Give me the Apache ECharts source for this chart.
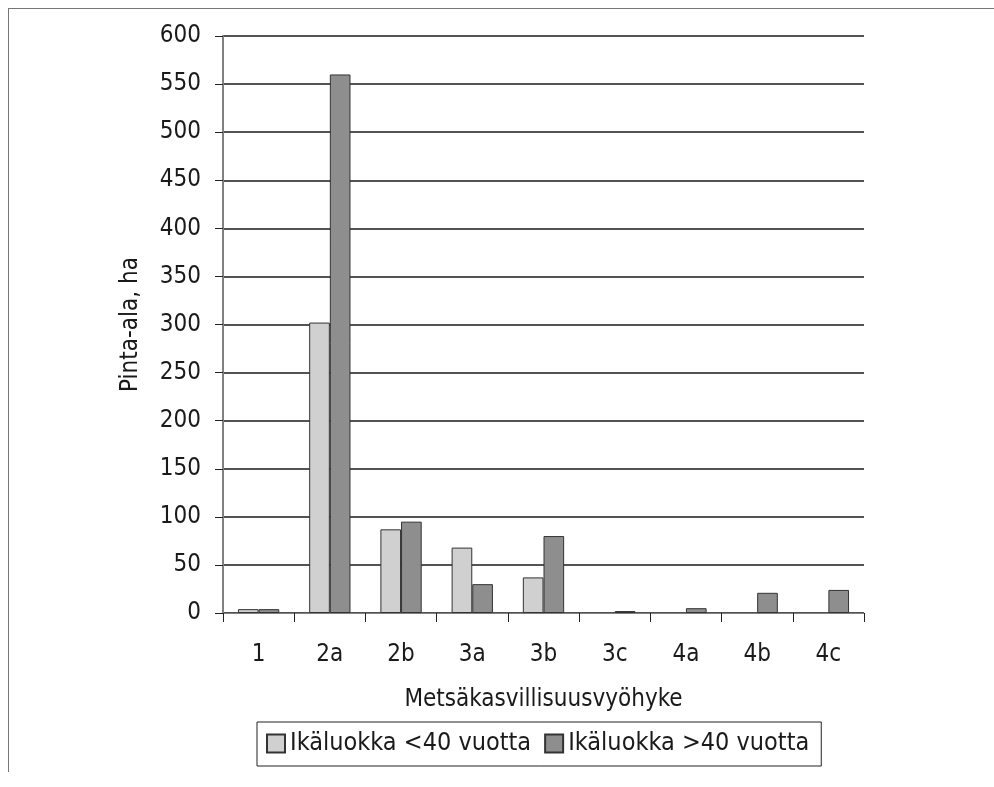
<!DOCTYPE html>
<html><head><meta charset="utf-8">
<script src="https://cdn.jsdelivr.net/npm/echarts@6/dist/echarts.min.js"></script>
<style>html,body{margin:0;padding:0;background:#fff}#c{width:994px;height:787px}</style>
</head><body><div id="c"></div>
<script>
const categories = ['1','2a','2b','3a','3b','3c','4a','4b','4c'];
const youngValues = [4, 302, 87, 68, 37, 0, 0, 0, 0];
const oldValues = [4, 560, 95, 30, 80, 2, 5, 21, 24];
const seriesNames = ['Ikäluokka <40 vuotta', 'Ikäluokka >40 vuotta'];
const yTicks = [0,50,100,150,200,250,300,350,400,450,500,550,600];
const yTitle = 'Pinta-ala, ha';
const xTitle = 'Metsäkasvillisuusvyöhyke';

const FONT = '"DejaVu Sans Condensed", "Liberation Sans Narrow", sans-serif';
const hideZero = arr => arr.map(v => v === 0 ? null : v);
const chart = echarts.init(document.getElementById('c'));
chart.setOption({
  animation: false,
  textStyle: {fontFamily: FONT},
  graphic: [
    {type: 'line', shape: {x1: 8, y1: 8.5, x2: 994, y2: 8.5}, style: {stroke: '#777', lineWidth: 1}},
    {type: 'line', shape: {x1: 8.5, y1: 8, x2: 8.5, y2: 772}, style: {stroke: '#777', lineWidth: 1}}
  ],
  grid: {left: 223, right: 130, top: 36, bottom: 174, containLabel: false},
  legend: {
    top: 722, left: 257,
    data: seriesNames,
    itemWidth: 18, itemHeight: 18, itemGap: 13,
    icon: 'rect',
    borderColor: '#222', borderWidth: 1,
    padding: [9, 12, 10, 9],
    textStyle: {fontSize: 25, color: '#1a1a1a', fontFamily: FONT}
  },
  xAxis: {
    type: 'category', data: categories,
    name: xTitle, nameLocation: 'middle', nameGap: 75,
    nameTextStyle: {fontSize: 24, color: '#1a1a1a', fontFamily: FONT},
    axisLine: {lineStyle: {color: '#808080', width: 1}},
    axisTick: {show: true, length: 9, lineStyle: {color: '#222'}},
    axisLabel: {fontSize: 24, color: '#1a1a1a', margin: 30, fontFamily: FONT}
  },
  yAxis: {
    type: 'value', min: 0, max: 600, interval: 50,
    name: yTitle, nameLocation: 'middle', nameGap: 80, nameRotate: 90,
    nameTextStyle: {fontSize: 24, color: '#1a1a1a', fontFamily: FONT},
    axisLine: {show: true, lineStyle: {color: '#808080', width: 2}},
    axisTick: {show: true, length: 8, lineStyle: {color: '#222'}},
    axisLabel: {fontSize: 24, color: '#1a1a1a', margin: 22, fontFamily: FONT,
      formatter: v => yTicks.includes(v) ? String(v) : ''},
    splitLine: {show: true, lineStyle: {color: '#1a1a1a', width: 1.5}}
  },
  series: [
    {name: seriesNames[0], type: 'bar', data: hideZero(youngValues), barGap: '0%', barCategoryGap: '42%',
     itemStyle: {color: '#d0d0d0', borderColor: '#333', borderWidth: 1}},
    {name: seriesNames[1], type: 'bar', data: hideZero(oldValues), barGap: '0%', barCategoryGap: '42%',
     itemStyle: {color: '#8e8e8e', borderColor: '#333', borderWidth: 1}}
  ]
});
</script></body></html>
